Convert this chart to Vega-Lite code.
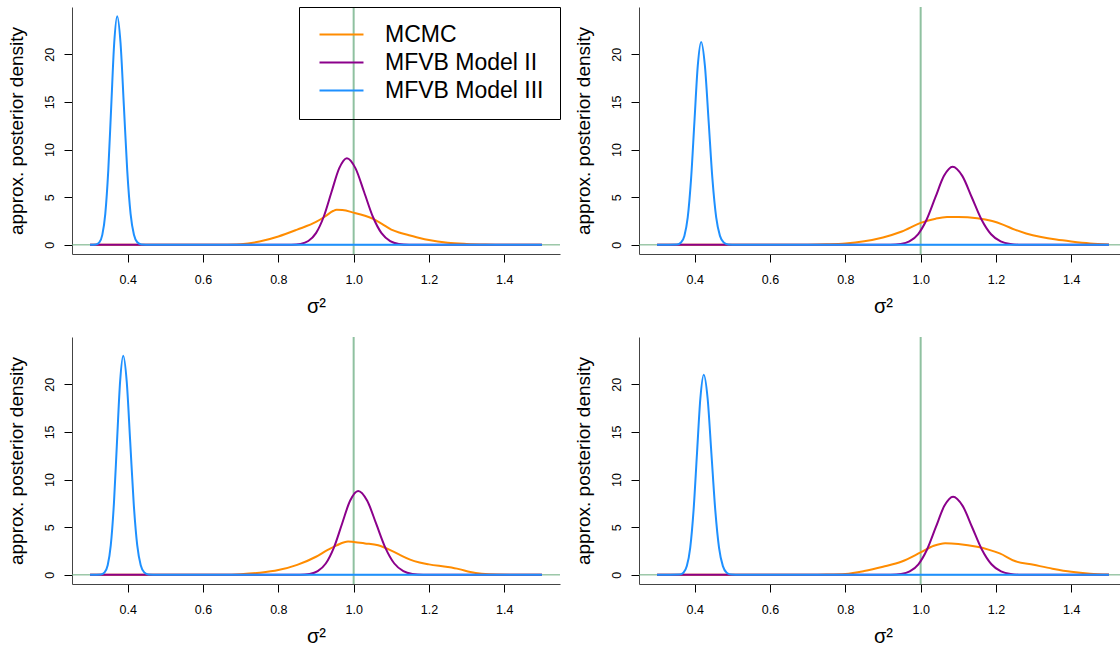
{
"$schema": "https://vega.github.io/schema/vega-lite/v6.json",
"background": "white",
"padding": {"left": 6, "top": 6, "right": 0, "bottom": 0},
"datasets": {"d": [
{"p":1,"s":"MCMC","x":0.30,"y":0},{"p":1,"s":"MCMC","x":0.60,"y":0},{"p":1,"s":"MCMC","x":0.65,"y":0.01},{"p":1,"s":"MCMC","x":0.70,"y":0.07},{"p":1,"s":"MCMC","x":0.75,"y":0.35},{"p":1,"s":"MCMC","x":0.80,"y":0.88},{"p":1,"s":"MCMC","x":0.85,"y":1.6},{"p":1,"s":"MCMC","x":0.90,"y":2.4},{"p":1,"s":"MCMC","x":0.925,"y":3.0},{"p":1,"s":"MCMC","x":0.945,"y":3.55},{"p":1,"s":"MCMC","x":0.955,"y":3.68},{"p":1,"s":"MCMC","x":0.97,"y":3.65},{"p":1,"s":"MCMC","x":1.00,"y":3.38},{"p":1,"s":"MCMC","x":1.03,"y":3.05},{"p":1,"s":"MCMC","x":1.05,"y":2.75},{"p":1,"s":"MCMC","x":1.075,"y":2.2},{"p":1,"s":"MCMC","x":1.10,"y":1.6},{"p":1,"s":"MCMC","x":1.125,"y":1.25},{"p":1,"s":"MCMC","x":1.15,"y":0.98},{"p":1,"s":"MCMC","x":1.175,"y":0.72},{"p":1,"s":"MCMC","x":1.20,"y":0.5},{"p":1,"s":"MCMC","x":1.25,"y":0.22},{"p":1,"s":"MCMC","x":1.30,"y":0.1},{"p":1,"s":"MCMC","x":1.35,"y":0.04},{"p":1,"s":"MCMC","x":1.40,"y":0.01},{"p":1,"s":"MCMC","x":1.50,"y":0},
{"p":1,"s":"MFVB Model II","x":0.30,"y":0},{"p":1,"s":"MFVB Model II","x":0.80,"y":0},{"p":1,"s":"MFVB Model II","x":0.8344,"y":0.01},{"p":1,"s":"MFVB Model II","x":0.859,"y":0.10},{"p":1,"s":"MFVB Model II","x":0.8795,"y":0.40},{"p":1,"s":"MFVB Model II","x":0.900,"y":1.23},{"p":1,"s":"MFVB Model II","x":0.9205,"y":2.95},{"p":1,"s":"MFVB Model II","x":0.941,"y":5.52},{"p":1,"s":"MFVB Model II","x":0.9615,"y":8.03},{"p":1,"s":"MFVB Model II","x":0.982,"y":9.1},{"p":1,"s":"MFVB Model II","x":1.005,"y":8.03},{"p":1,"s":"MFVB Model II","x":1.028,"y":5.52},{"p":1,"s":"MFVB Model II","x":1.051,"y":2.95},{"p":1,"s":"MFVB Model II","x":1.074,"y":1.23},{"p":1,"s":"MFVB Model II","x":1.097,"y":0.40},{"p":1,"s":"MFVB Model II","x":1.12,"y":0.10},{"p":1,"s":"MFVB Model II","x":1.1476,"y":0.01},{"p":1,"s":"MFVB Model II","x":1.20,"y":0},{"p":1,"s":"MFVB Model II","x":1.50,"y":0},
{"p":1,"s":"MFVB Model III","x":0.30,"y":0},{"p":1,"s":"MFVB Model III","x":0.3151,"y":0.04},{"p":1,"s":"MFVB Model III","x":0.3246,"y":0.27},{"p":1,"s":"MFVB Model III","x":0.3325,"y":1.05},{"p":1,"s":"MFVB Model III","x":0.3404,"y":3.25},{"p":1,"s":"MFVB Model III","x":0.3483,"y":7.79},{"p":1,"s":"MFVB Model III","x":0.3562,"y":14.56},{"p":1,"s":"MFVB Model III","x":0.3641,"y":21.18},{"p":1,"s":"MFVB Model III","x":0.372,"y":24.0},{"p":1,"s":"MFVB Model III","x":0.3809,"y":21.18},{"p":1,"s":"MFVB Model III","x":0.3898,"y":14.56},{"p":1,"s":"MFVB Model III","x":0.3987,"y":7.79},{"p":1,"s":"MFVB Model III","x":0.4076,"y":3.25},{"p":1,"s":"MFVB Model III","x":0.4165,"y":1.05},{"p":1,"s":"MFVB Model III","x":0.4254,"y":0.27},{"p":1,"s":"MFVB Model III","x":0.4361,"y":0.04},{"p":1,"s":"MFVB Model III","x":0.46,"y":0},{"p":1,"s":"MFVB Model III","x":1.50,"y":0},

{"p":2,"s":"MCMC","x":0.30,"y":0},{"p":2,"s":"MCMC","x":0.65,"y":0.01},{"p":2,"s":"MCMC","x":0.70,"y":0.02},{"p":2,"s":"MCMC","x":0.75,"y":0.06},{"p":2,"s":"MCMC","x":0.80,"y":0.15},{"p":2,"s":"MCMC","x":0.85,"y":0.38},{"p":2,"s":"MCMC","x":0.90,"y":0.78},{"p":2,"s":"MCMC","x":0.95,"y":1.4},{"p":2,"s":"MCMC","x":1.00,"y":2.3},{"p":2,"s":"MCMC","x":1.04,"y":2.75},{"p":2,"s":"MCMC","x":1.07,"y":2.92},{"p":2,"s":"MCMC","x":1.10,"y":2.93},{"p":2,"s":"MCMC","x":1.15,"y":2.8},{"p":2,"s":"MCMC","x":1.19,"y":2.5},{"p":2,"s":"MCMC","x":1.22,"y":2.1},{"p":2,"s":"MCMC","x":1.25,"y":1.6},{"p":2,"s":"MCMC","x":1.28,"y":1.2},{"p":2,"s":"MCMC","x":1.32,"y":0.82},{"p":2,"s":"MCMC","x":1.36,"y":0.55},{"p":2,"s":"MCMC","x":1.40,"y":0.35},{"p":2,"s":"MCMC","x":1.45,"y":0.15},{"p":2,"s":"MCMC","x":1.50,"y":0.05},
{"p":2,"s":"MFVB Model II","x":0.30,"y":0},{"p":2,"s":"MFVB Model II","x":0.88,"y":0},{"p":2,"s":"MFVB Model II","x":0.9194,"y":0.01},{"p":2,"s":"MFVB Model II","x":0.947,"y":0.09},{"p":2,"s":"MFVB Model II","x":0.970,"y":0.36},{"p":2,"s":"MFVB Model II","x":0.993,"y":1.11},{"p":2,"s":"MFVB Model II","x":1.016,"y":2.66},{"p":2,"s":"MFVB Model II","x":1.039,"y":4.97},{"p":2,"s":"MFVB Model II","x":1.062,"y":7.24},{"p":2,"s":"MFVB Model II","x":1.085,"y":8.2},{"p":2,"s":"MFVB Model II","x":1.1105,"y":7.24},{"p":2,"s":"MFVB Model II","x":1.136,"y":4.97},{"p":2,"s":"MFVB Model II","x":1.1615,"y":2.66},{"p":2,"s":"MFVB Model II","x":1.187,"y":1.11},{"p":2,"s":"MFVB Model II","x":1.2125,"y":0.36},{"p":2,"s":"MFVB Model II","x":1.238,"y":0.09},{"p":2,"s":"MFVB Model II","x":1.2686,"y":0.01},{"p":2,"s":"MFVB Model II","x":1.31,"y":0},{"p":2,"s":"MFVB Model II","x":1.50,"y":0},
{"p":2,"s":"MFVB Model III","x":0.30,"y":0},{"p":2,"s":"MFVB Model III","x":0.3529,"y":0.03},{"p":2,"s":"MFVB Model III","x":0.3636,"y":0.24},{"p":2,"s":"MFVB Model III","x":0.3725,"y":0.94},{"p":2,"s":"MFVB Model III","x":0.3814,"y":2.88},{"p":2,"s":"MFVB Model III","x":0.3903,"y":6.92},{"p":2,"s":"MFVB Model III","x":0.3992,"y":12.92},{"p":2,"s":"MFVB Model III","x":0.4081,"y":18.80},{"p":2,"s":"MFVB Model III","x":0.417,"y":21.3},{"p":2,"s":"MFVB Model III","x":0.427,"y":18.80},{"p":2,"s":"MFVB Model III","x":0.437,"y":12.92},{"p":2,"s":"MFVB Model III","x":0.447,"y":6.92},{"p":2,"s":"MFVB Model III","x":0.457,"y":2.88},{"p":2,"s":"MFVB Model III","x":0.467,"y":0.94},{"p":2,"s":"MFVB Model III","x":0.477,"y":0.24},{"p":2,"s":"MFVB Model III","x":0.489,"y":0.03},{"p":2,"s":"MFVB Model III","x":0.51,"y":0},{"p":2,"s":"MFVB Model III","x":1.50,"y":0},

{"p":3,"s":"MCMC","x":0.30,"y":0},{"p":3,"s":"MCMC","x":0.60,"y":0},{"p":3,"s":"MCMC","x":0.65,"y":0.01},{"p":3,"s":"MCMC","x":0.70,"y":0.07},{"p":3,"s":"MCMC","x":0.75,"y":0.22},{"p":3,"s":"MCMC","x":0.80,"y":0.5},{"p":3,"s":"MCMC","x":0.85,"y":1.05},{"p":3,"s":"MCMC","x":0.90,"y":1.9},{"p":3,"s":"MCMC","x":0.93,"y":2.6},{"p":3,"s":"MCMC","x":0.955,"y":3.1},{"p":3,"s":"MCMC","x":0.985,"y":3.5},{"p":3,"s":"MCMC","x":1.00,"y":3.45},{"p":3,"s":"MCMC","x":1.03,"y":3.3},{"p":3,"s":"MCMC","x":1.065,"y":3.1},{"p":3,"s":"MCMC","x":1.10,"y":2.55},{"p":3,"s":"MCMC","x":1.125,"y":2.05},{"p":3,"s":"MCMC","x":1.15,"y":1.6},{"p":3,"s":"MCMC","x":1.175,"y":1.3},{"p":3,"s":"MCMC","x":1.20,"y":1.1},{"p":3,"s":"MCMC","x":1.25,"y":0.82},{"p":3,"s":"MCMC","x":1.28,"y":0.6},{"p":3,"s":"MCMC","x":1.31,"y":0.3},{"p":3,"s":"MCMC","x":1.34,"y":0.12},{"p":3,"s":"MCMC","x":1.38,"y":0.03},{"p":3,"s":"MCMC","x":1.50,"y":0},
{"p":3,"s":"MFVB Model II","x":0.30,"y":0},{"p":3,"s":"MFVB Model II","x":0.82,"y":0},{"p":3,"s":"MFVB Model II","x":0.8572,"y":0.01},{"p":3,"s":"MFVB Model II","x":0.883,"y":0.10},{"p":3,"s":"MFVB Model II","x":0.9045,"y":0.39},{"p":3,"s":"MFVB Model II","x":0.926,"y":1.19},{"p":3,"s":"MFVB Model II","x":0.9475,"y":2.86},{"p":3,"s":"MFVB Model II","x":0.969,"y":5.34},{"p":3,"s":"MFVB Model II","x":0.9905,"y":7.77},{"p":3,"s":"MFVB Model II","x":1.012,"y":8.8},{"p":3,"s":"MFVB Model II","x":1.036,"y":7.77},{"p":3,"s":"MFVB Model II","x":1.06,"y":5.34},{"p":3,"s":"MFVB Model II","x":1.084,"y":2.86},{"p":3,"s":"MFVB Model II","x":1.108,"y":1.19},{"p":3,"s":"MFVB Model II","x":1.132,"y":0.39},{"p":3,"s":"MFVB Model II","x":1.156,"y":0.10},{"p":3,"s":"MFVB Model II","x":1.1848,"y":0.01},{"p":3,"s":"MFVB Model II","x":1.22,"y":0},{"p":3,"s":"MFVB Model II","x":1.50,"y":0},
{"p":3,"s":"MFVB Model III","x":0.30,"y":0},{"p":3,"s":"MFVB Model III","x":0.3286,"y":0.03},{"p":3,"s":"MFVB Model III","x":0.3385,"y":0.26},{"p":3,"s":"MFVB Model III","x":0.3468,"y":1.01},{"p":3,"s":"MFVB Model III","x":0.355,"y":3.11},{"p":3,"s":"MFVB Model III","x":0.3633,"y":7.47},{"p":3,"s":"MFVB Model III","x":0.3715,"y":13.95},{"p":3,"s":"MFVB Model III","x":0.3798,"y":20.30},{"p":3,"s":"MFVB Model III","x":0.388,"y":23.0},{"p":3,"s":"MFVB Model III","x":0.3973,"y":20.30},{"p":3,"s":"MFVB Model III","x":0.4066,"y":13.95},{"p":3,"s":"MFVB Model III","x":0.4159,"y":7.47},{"p":3,"s":"MFVB Model III","x":0.4252,"y":3.11},{"p":3,"s":"MFVB Model III","x":0.4345,"y":1.01},{"p":3,"s":"MFVB Model III","x":0.4438,"y":0.26},{"p":3,"s":"MFVB Model III","x":0.455,"y":0.03},{"p":3,"s":"MFVB Model III","x":0.48,"y":0},{"p":3,"s":"MFVB Model III","x":1.50,"y":0},

{"p":4,"s":"MCMC","x":0.30,"y":0},{"p":4,"s":"MCMC","x":0.70,"y":0.01},{"p":4,"s":"MCMC","x":0.75,"y":0.03},{"p":4,"s":"MCMC","x":0.80,"y":0.1},{"p":4,"s":"MCMC","x":0.85,"y":0.4},{"p":4,"s":"MCMC","x":0.90,"y":0.85},{"p":4,"s":"MCMC","x":0.95,"y":1.4},{"p":4,"s":"MCMC","x":1.00,"y":2.35},{"p":4,"s":"MCMC","x":1.035,"y":3.05},{"p":4,"s":"MCMC","x":1.065,"y":3.32},{"p":4,"s":"MCMC","x":1.10,"y":3.25},{"p":4,"s":"MCMC","x":1.15,"y":2.95},{"p":4,"s":"MCMC","x":1.18,"y":2.65},{"p":4,"s":"MCMC","x":1.21,"y":2.25},{"p":4,"s":"MCMC","x":1.25,"y":1.45},{"p":4,"s":"MCMC","x":1.30,"y":1.05},{"p":4,"s":"MCMC","x":1.35,"y":0.65},{"p":4,"s":"MCMC","x":1.40,"y":0.32},{"p":4,"s":"MCMC","x":1.45,"y":0.12},{"p":4,"s":"MCMC","x":1.50,"y":0.03},
{"p":4,"s":"MFVB Model II","x":0.30,"y":0},{"p":4,"s":"MFVB Model II","x":0.88,"y":0},{"p":4,"s":"MFVB Model II","x":0.9204,"y":0.01},{"p":4,"s":"MFVB Model II","x":0.948,"y":0.09},{"p":4,"s":"MFVB Model II","x":0.971,"y":0.36},{"p":4,"s":"MFVB Model II","x":0.994,"y":1.11},{"p":4,"s":"MFVB Model II","x":1.017,"y":2.66},{"p":4,"s":"MFVB Model II","x":1.040,"y":4.97},{"p":4,"s":"MFVB Model II","x":1.063,"y":7.24},{"p":4,"s":"MFVB Model II","x":1.086,"y":8.2},{"p":4,"s":"MFVB Model II","x":1.1115,"y":7.24},{"p":4,"s":"MFVB Model II","x":1.137,"y":4.97},{"p":4,"s":"MFVB Model II","x":1.1625,"y":2.66},{"p":4,"s":"MFVB Model II","x":1.188,"y":1.11},{"p":4,"s":"MFVB Model II","x":1.2135,"y":0.36},{"p":4,"s":"MFVB Model II","x":1.239,"y":0.09},{"p":4,"s":"MFVB Model II","x":1.2696,"y":0.01},{"p":4,"s":"MFVB Model II","x":1.31,"y":0},{"p":4,"s":"MFVB Model II","x":1.50,"y":0},
{"p":4,"s":"MFVB Model III","x":0.30,"y":0},{"p":4,"s":"MFVB Model III","x":0.3592,"y":0.03},{"p":4,"s":"MFVB Model III","x":0.37,"y":0.23},{"p":4,"s":"MFVB Model III","x":0.379,"y":0.92},{"p":4,"s":"MFVB Model III","x":0.388,"y":2.84},{"p":4,"s":"MFVB Model III","x":0.397,"y":6.82},{"p":4,"s":"MFVB Model III","x":0.406,"y":12.74},{"p":4,"s":"MFVB Model III","x":0.415,"y":18.53},{"p":4,"s":"MFVB Model III","x":0.424,"y":21.0},{"p":4,"s":"MFVB Model III","x":0.4342,"y":18.53},{"p":4,"s":"MFVB Model III","x":0.4443,"y":12.74},{"p":4,"s":"MFVB Model III","x":0.4545,"y":6.82},{"p":4,"s":"MFVB Model III","x":0.4646,"y":2.84},{"p":4,"s":"MFVB Model III","x":0.4748,"y":0.92},{"p":4,"s":"MFVB Model III","x":0.4849,"y":0.23},{"p":4,"s":"MFVB Model III","x":0.4971,"y":0.03},{"p":4,"s":"MFVB Model III","x":0.52,"y":0},{"p":4,"s":"MFVB Model III","x":1.50,"y":0}
]},
"columns": 2,
"spacing": {"row": 83, "column": 79},
"bounds": "flush",
"resolve": {"legend": {"color": "independent"}},
"concat": [
{"width": 488, "height": 247, "layer": [
 {"data": {"values": [{}]}, "mark": {"type": "rule", "color": "#6aab7c", "strokeWidth": 1}, "encoding": {"y": {"datum": 0}}},
 {"data": {"values": [{}]}, "mark": {"type": "rule", "color": "#8fc1a0", "strokeWidth": 2}, "encoding": {"x": {"datum": 1}}},
 {"data": {"name": "d"}, "transform": [{"filter": "datum.p == 1"}], "mark": {"type": "line", "strokeWidth": 2, "interpolate": "monotone"},
  "encoding": {
   "x": {"field": "x", "type": "quantitative", "scale": {"domain": [0.252, 1.548], "nice": false, "zero": false}, "axis": {"values": [0.4,0.6,0.8,1.0,1.2,1.4], "format": ".1f", "title": "σ²", "titleFontSize": 20, "labelBaseline": "alphabetic", "labelPadding": 21, "titleBaseline": "alphabetic", "titleY": 58}},
   "y": {"field": "y", "type": "quantitative", "scale": {"domain": [-0.96, 24.96], "nice": false, "zero": false}, "axis": {"values": [0,5,10,15,20], "labelAngle": -90, "labelAlign": "center", "labelBaseline": "alphabetic", "labelPadding": 11, "title": "approx. posterior density", "titleX": -50, "titleBaseline": "alphabetic", "titleAngle": -90, "titleAlign": "center"}},
   "color": {"field": "s", "type": "nominal", "scale": {"domain": ["MCMC","MFVB Model II","MFVB Model III"], "range": ["#FF8C00","#8B008B","#1E90FF"]},
     "legend": {"orient": "top-right", "offset": 0, "title": null, "padding": 16, "strokeColor": "black", "symbolType": "M-2.136,0H2.136", "symbolSize": 424, "symbolStrokeWidth": 2, "symbolOffset": 15, "labelOffset": 32, "labelFontSize": 23, "labelFont": "Liberation Sans", "labelColor": "black", "rowPadding": 4}}
  }}
]},
{"width": 488, "height": 247, "layer": [
 {"data": {"values": [{}]}, "mark": {"type": "rule", "color": "#6aab7c", "strokeWidth": 1}, "encoding": {"y": {"datum": 0}}},
 {"data": {"values": [{}]}, "mark": {"type": "rule", "color": "#8fc1a0", "strokeWidth": 2}, "encoding": {"x": {"datum": 1}}},
 {"data": {"name": "d"}, "transform": [{"filter": "datum.p == 2"}], "mark": {"type": "line", "strokeWidth": 2, "interpolate": "monotone"},
  "encoding": {
   "x": {"field": "x", "type": "quantitative", "scale": {"domain": [0.252, 1.548], "nice": false, "zero": false}, "axis": {"values": [0.4,0.6,0.8,1.0,1.2,1.4], "format": ".1f", "title": "σ²", "titleFontSize": 20, "labelBaseline": "alphabetic", "labelPadding": 21, "titleBaseline": "alphabetic", "titleY": 58}},
   "y": {"field": "y", "type": "quantitative", "scale": {"domain": [-0.96, 24.96], "nice": false, "zero": false}, "axis": {"values": [0,5,10,15,20], "labelAngle": -90, "labelAlign": "center", "labelBaseline": "alphabetic", "labelPadding": 11, "title": "approx. posterior density", "titleX": -50, "titleBaseline": "alphabetic", "titleAngle": -90, "titleAlign": "center"}},
   "color": {"field": "s", "type": "nominal", "scale": {"domain": ["MCMC","MFVB Model II","MFVB Model III"], "range": ["#FF8C00","#8B008B","#1E90FF"]}, "legend": null}
  }}
]},
{"width": 488, "height": 247, "layer": [
 {"data": {"values": [{}]}, "mark": {"type": "rule", "color": "#6aab7c", "strokeWidth": 1}, "encoding": {"y": {"datum": 0}}},
 {"data": {"values": [{}]}, "mark": {"type": "rule", "color": "#8fc1a0", "strokeWidth": 2}, "encoding": {"x": {"datum": 1}}},
 {"data": {"name": "d"}, "transform": [{"filter": "datum.p == 3"}], "mark": {"type": "line", "strokeWidth": 2, "interpolate": "monotone"},
  "encoding": {
   "x": {"field": "x", "type": "quantitative", "scale": {"domain": [0.252, 1.548], "nice": false, "zero": false}, "axis": {"values": [0.4,0.6,0.8,1.0,1.2,1.4], "format": ".1f", "title": "σ²", "titleFontSize": 20, "labelBaseline": "alphabetic", "labelPadding": 21, "titleBaseline": "alphabetic", "titleY": 58}},
   "y": {"field": "y", "type": "quantitative", "scale": {"domain": [-0.96, 24.96], "nice": false, "zero": false}, "axis": {"values": [0,5,10,15,20], "labelAngle": -90, "labelAlign": "center", "labelBaseline": "alphabetic", "labelPadding": 11, "title": "approx. posterior density", "titleX": -50, "titleBaseline": "alphabetic", "titleAngle": -90, "titleAlign": "center"}},
   "color": {"field": "s", "type": "nominal", "scale": {"domain": ["MCMC","MFVB Model II","MFVB Model III"], "range": ["#FF8C00","#8B008B","#1E90FF"]}, "legend": null}
  }}
]},
{"width": 488, "height": 247, "layer": [
 {"data": {"values": [{}]}, "mark": {"type": "rule", "color": "#6aab7c", "strokeWidth": 1}, "encoding": {"y": {"datum": 0}}},
 {"data": {"values": [{}]}, "mark": {"type": "rule", "color": "#8fc1a0", "strokeWidth": 2}, "encoding": {"x": {"datum": 1}}},
 {"data": {"name": "d"}, "transform": [{"filter": "datum.p == 4"}], "mark": {"type": "line", "strokeWidth": 2, "interpolate": "monotone"},
  "encoding": {
   "x": {"field": "x", "type": "quantitative", "scale": {"domain": [0.252, 1.548], "nice": false, "zero": false}, "axis": {"values": [0.4,0.6,0.8,1.0,1.2,1.4], "format": ".1f", "title": "σ²", "titleFontSize": 20, "labelBaseline": "alphabetic", "labelPadding": 21, "titleBaseline": "alphabetic", "titleY": 58}},
   "y": {"field": "y", "type": "quantitative", "scale": {"domain": [-0.96, 24.96], "nice": false, "zero": false}, "axis": {"values": [0,5,10,15,20], "labelAngle": -90, "labelAlign": "center", "labelBaseline": "alphabetic", "labelPadding": 11, "title": "approx. posterior density", "titleX": -50, "titleBaseline": "alphabetic", "titleAngle": -90, "titleAlign": "center"}},
   "color": {"field": "s", "type": "nominal", "scale": {"domain": ["MCMC","MFVB Model II","MFVB Model III"], "range": ["#FF8C00","#8B008B","#1E90FF"]}, "legend": null}
  }}
]}
],
"config": {
 "view": {"stroke": null},
 "font": "Liberation Sans",
 "axis": {"labelFont": "Liberation Sans", "titleFont": "Liberation Sans", "labelFontSize": 12.5, "titleFontSize": 19, "titleFontWeight": "normal", "labelColor": "black", "titleColor": "black", "tickColor": "black", "domainColor": "#444", "tickSize": 8, "grid": false, "labelOverlap": false, "labelFlush": false}
}
}
